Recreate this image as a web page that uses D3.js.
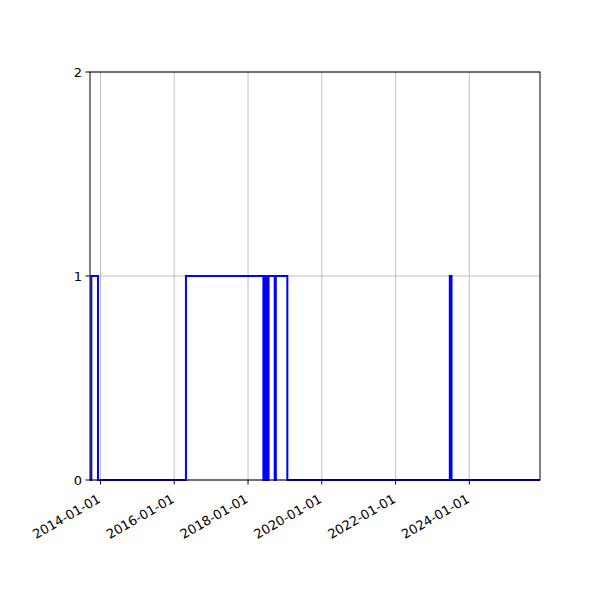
<!DOCTYPE html>
<html>
<head>
<meta charset="utf-8">
<script src="https://cdn.jsdelivr.net/npm/d3@7"></script>
<style>
  body { margin: 0; background: #fff; }
  svg { display: block; }
  text { font-family: "DejaVu Sans", sans-serif; font-size: 13px; fill: #000; }
</style>
</head>
<body>
<svg id="chart" width="600" height="600"></svg>
<script>
// Step series: each date is where the value changes (step "post")
const dates = [
  "2013-09-19", "2013-10-02", "2013-12-07", "2016-04-26",
  "2018-06-02", "2018-06-13", "2018-06-23", "2018-07-03", "2018-07-13", "2018-07-23",
  "2018-09-22", "2018-10-03", "2019-01-25",
  "2023-06-22", "2023-07-09", "2025-12-01"
];
const values = [0, 1, 0, 1, 0, 1, 0, 1, 0, 1, 0, 1, 0, 1, 0, 0];
const xDomain = ["2013-09-19", "2025-12-01"];
const xTicks = ["2014-01-01", "2016-01-01", "2018-01-01", "2020-01-01", "2022-01-01", "2024-01-01"];
const yTicks = [0, 1, 2];

const parse = d3.utcParse("%Y-%m-%d");
const fmt = d3.utcFormat("%Y-%m-%d");
const data = dates.map((d, i) => ({ date: parse(d), value: values[i] }));

const margin = { left: 90, right: 540, top: 72, bottom: 480 };
const svg = d3.select("#chart");

const x = d3.scaleUtc().domain(xDomain.map(parse)).range([margin.left, margin.right]);
const y = d3.scaleLinear().domain([0, 2]).range([margin.bottom, margin.top]);

// grid
const grid = svg.append("g");
grid.selectAll(".vg").data(xTicks.map(parse)).enter().append("line")
  .attr("x1", d => x(d)).attr("x2", d => x(d))
  .attr("y1", margin.top).attr("y2", margin.bottom)
  .attr("stroke", "#b0b0b0").attr("stroke-width", 0.8);
grid.selectAll(".hg").data(yTicks).enter().append("line")
  .attr("x1", margin.left).attr("x2", margin.right)
  .attr("y1", d => y(d)).attr("y2", d => y(d))
  .attr("stroke", "#b0b0b0").attr("stroke-width", 0.8);

// clip
svg.append("clipPath").attr("id", "clip").append("rect")
  .attr("x", margin.left).attr("y", margin.top - 2)
  .attr("width", margin.right - margin.left).attr("height", margin.bottom - margin.top + 4);

const line = d3.line().x(d => x(d.date)).y(d => y(d.value)).curve(d3.curveStepAfter);
svg.append("path").datum(data)
  .attr("clip-path", "url(#clip)")
  .attr("d", line)
  .attr("fill", "none").attr("stroke", "#0000ff").attr("stroke-width", 2)
  .attr("stroke-linejoin", "miter");

// spines
svg.append("rect")
  .attr("x", margin.left).attr("y", margin.top)
  .attr("width", margin.right - margin.left).attr("height", margin.bottom - margin.top)
  .attr("fill", "none").attr("stroke", "#000").attr("stroke-width", 1);

// x axis ticks
const xa = svg.append("g");
xTicks.map(parse).forEach(d => {
  xa.append("line").attr("x1", x(d)).attr("x2", x(d))
    .attr("y1", margin.bottom).attr("y2", margin.bottom + 4.5)
    .attr("stroke", "#000").attr("stroke-width", 1);
  xa.append("text")
    .attr("transform", `translate(${x(d) + 1},${margin.bottom + 21.5}) rotate(-30)`)
    .attr("text-anchor", "end")
    .text(fmt(d));
});

// y axis ticks
const ya = svg.append("g");
yTicks.forEach(v => {
  ya.append("line").attr("x1", margin.left - 4.5).attr("x2", margin.left)
    .attr("y1", y(v)).attr("y2", y(v))
    .attr("stroke", "#000").attr("stroke-width", 1);
  ya.append("text")
    .attr("x", margin.left - 8).attr("y", y(v) + 4.5)
    .attr("text-anchor", "end")
    .text(v);
});
</script>
</body>
</html>
